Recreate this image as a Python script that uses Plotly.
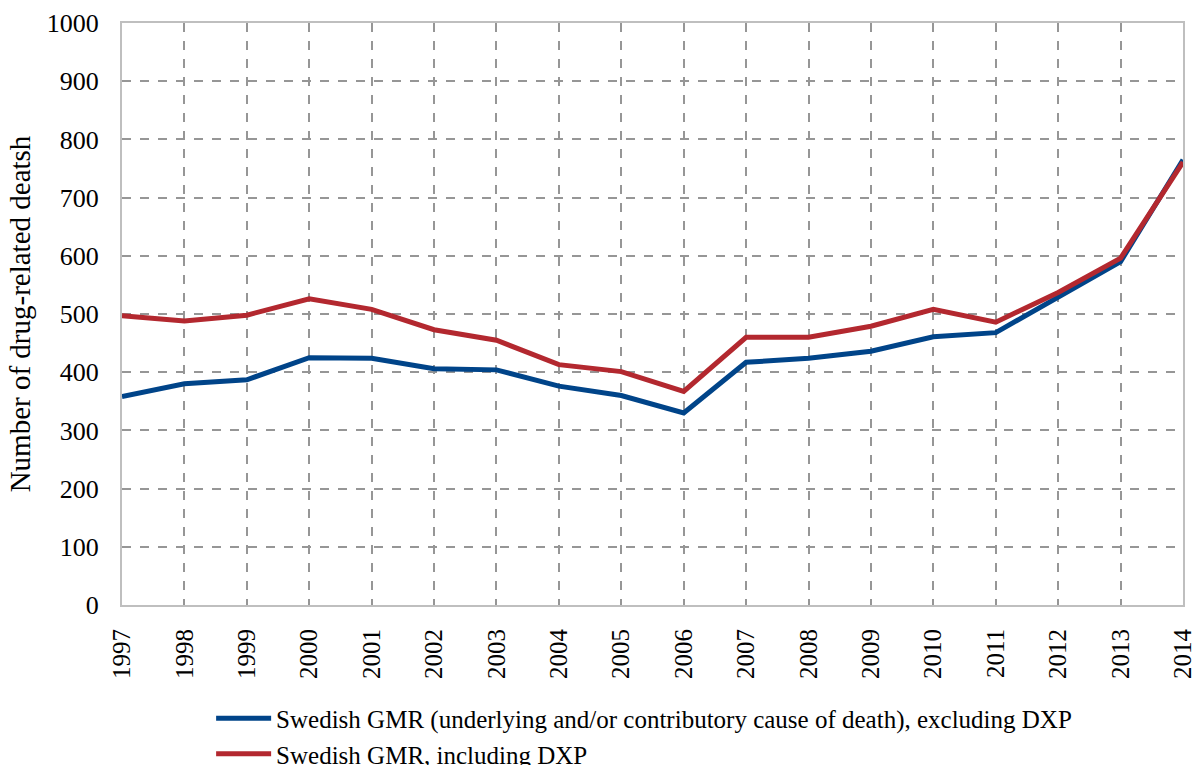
import plotly.graph_objects as go

years = [1997, 1998, 1999, 2000, 2001, 2002, 2003, 2004, 2005, 2006,
         2007, 2008, 2009, 2010, 2011, 2012, 2013, 2014]
excl_dxp = [358, 380, 387, 425, 424, 406, 404, 376, 360, 330,
            417, 424, 436, 461, 468, 530, 590, 765]
incl_dxp = [497, 488, 498, 526, 508, 473, 455, 413, 401, 367,
            460, 460, 479, 508, 486, 537, 596, 761]
name_excl = "Swedish GMR (underlying and/or contributory cause of death), excluding DXP"
name_incl = "Swedish GMR, including DXP"
y_title = "Number of drug-related deatsh"

FONT = "Liberation Serif"
fig = go.Figure()
fig.add_trace(go.Scatter(x=years, y=excl_dxp, mode="lines", name=name_excl,
                         line=dict(color="#004489", width=5)))
fig.add_trace(go.Scatter(x=years, y=incl_dxp, mode="lines", name=name_incl,
                         line=dict(color="#B3282F", width=5)))

fig.update_layout(
    width=1194, height=765,
    margin=dict(l=122, r=11, t=23, b=160, autoexpand=False),
    paper_bgcolor="white", plot_bgcolor="white",
    font=dict(family=FONT, size=25, color="black"),
    showlegend=True,
    legend=dict(orientation="v", x=0.084, xanchor="left", y=-0.1555, yanchor="top",
                font=dict(family=FONT, size=25), itemwidth=55,
                tracegroupgap=0, bgcolor="rgba(0,0,0,0)"),
)
fig.update_xaxes(
    range=[1997, 2014], tickmode="array", tickvals=years,
    ticktext=[str(y) for y in years], tickangle=-90,
    showgrid=True, gridcolor="#969696", griddash="dash", gridwidth=1.5,
    showline=True, linecolor="#BFBFBF", linewidth=2, mirror=True,
    ticks="", zeroline=False, tickfont=dict(family=FONT, size=25),
    ticklabelstandoff=12, automargin=False, ticklabeloverflow="allow",
)
fig.update_yaxes(
    range=[0, 1000], tickmode="array", tickvals=list(range(0, 1001, 100)),
    showgrid=True, gridcolor="#969696", griddash="dash", gridwidth=1.5,
    showline=True, linecolor="#BFBFBF", linewidth=2, mirror=True,
    ticks="", zeroline=False, tickfont=dict(family=FONT, size=26),
    ticklabelstandoff=16, automargin=False, ticklabeloverflow="allow",
    title=dict(text=y_title, font=dict(family=FONT, size=29), standoff=8),
)
fig.write_html(
    "out.html",
    config={"displayModeBar": False},
    post_script="document.body.style.margin='0';document.body.style.overflow='hidden';",
)
